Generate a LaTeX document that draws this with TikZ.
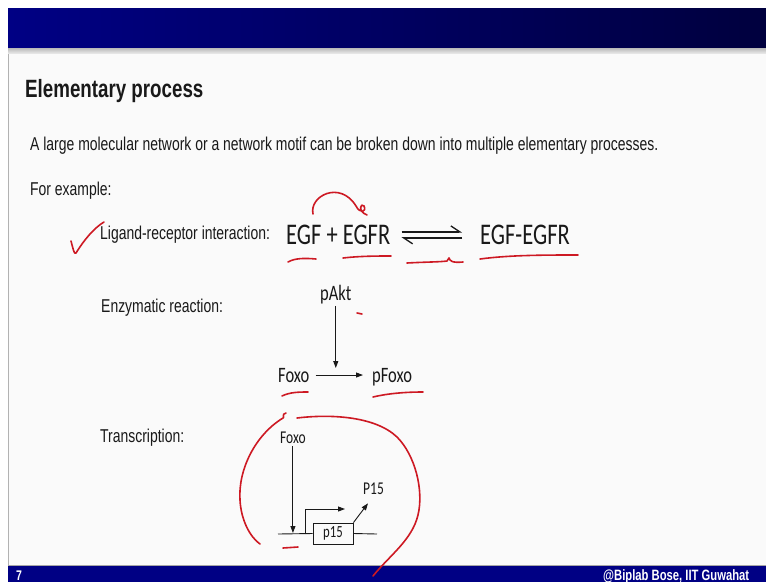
\documentclass[tikz,border=0pt]{standalone}
\usepackage{fontspec}
\setmainfont{Liberation Sans}[FakeStretch=0.75]
\newfontfamily\diagfont{Carlito}[FakeStretch=0.75]
\usetikzlibrary{arrows.meta,calc,positioning}
\definecolor{barblue}{RGB}{0,0,132}
\definecolor{bardark}{RGB}{0,0,62}
\definecolor{slidebg}{RGB}{250,250,250}
\definecolor{inkred}{RGB}{205,25,35}
\definecolor{txt}{RGB}{25,25,25}

\begin{document}
\begin{tikzpicture}[x=1pt,y=-1pt,
    body/.style={inner sep=0pt,anchor=base west,text=txt,font=\fontsize{18.6}{22}\selectfont},
    spc/.style={inner sep=0pt,anchor=base west,text=txt,font=\diagfont\fontsize{#1}{#1}\selectfont},
    flow/.style={-{Triangle[length=7pt,width=5pt]},line width=0.9pt,txt},
    harp/.style={-{Straight Barb[harpoon,length=9pt,width=12pt]},line width=1.3pt,txt},
    ink/.style={inkred,line width=1.6pt,line cap=round,line join=round}]
    \useasboundingbox (0,0) rectangle (766,582);
    % slide frame
    \fill[white] (0,0) rectangle (766,582);
    \fill[slidebg] (8,8) rectangle (766,566);
    \draw[gray!60] (8.5,48) -- (8.5,566);
    \shade[left color=barblue,right color=bardark] (8,8) rectangle (766,48);
    \shade[top color=gray!55,bottom color=gray!20] (8,48) rectangle (766,53);
    \draw[gray!70] (8,565.5) -- (766,565.5);
    \fill[barblue] (8,566) rectangle (766,582);
    \node[inner sep=0pt,anchor=base west,white,font=\bfseries\fontsize{14}{14}\selectfont] (pg) at (16,580) {7};
    \node[inner sep=0pt,anchor=base west,white,font=\bfseries\fontsize{15}{15}\selectfont] (credit) at (603,580) {@Biplab Bose, IIT Guwahat};

    % text
    \node[body,font=\bfseries\fontsize{25}{28}\selectfont] (title) at (25,97) {Elementary process};
    \node[body] (intro) at (30,150.5) {A large molecular network or a network motif can be broken down into multiple elementary processes.};
    \node[body] (eg) at (30,195) {For example:};
    \node[body] (lig) at (100,239) {Ligand-receptor interaction:};
    \node[body] (enz) at (101,312) {Enzymatic reaction:};
    \node[body] (trs) at (100,442) {Transcription:};

    % ligand-receptor
    \node[spc=30] (lhs) at (286,244) {EGF + EGFR};
    \node[spc=30] (cplx) at (480,244) {EGF-EGFR};
    \draw[harp,shorten <=11pt,shorten >=18pt] ([yshift=2.5pt]lhs.east) -- ([yshift=2.5pt]cplx.west);
    \draw[harp,shorten <=18pt,shorten >=11pt] ([yshift=-3.5pt]cplx.west) -- ([yshift=-3.5pt]lhs.east);

    % enzymatic reaction
    \node[spc=22] (akt) at (320,300) {pAkt};
    \node[spc=22] (foxo) at (278,382) {Foxo};
    \node[spc=22] (pfoxo) at (372,382) {pFoxo};
    \coordinate (hit) at ($(foxo.east)!0.5!(foxo.east -| pfoxo.west)$);
    \draw[flow,shorten <=6pt,shorten >=9pt] (foxo.east) -- (foxo.east -| pfoxo.west);
    \draw[flow,shorten <=2pt,shorten >=7pt] (akt.south) -- (akt.south |- hit);

    % transcription
    \node[spc=18] (tf) at (280,443) {Foxo};
    \node[draw=txt,line width=0.9pt,minimum width=40pt,minimum height=21pt,inner sep=0pt,text=txt,font=\diagfont\fontsize{17}{17}\selectfont] (gene) at (333,533.5) {p15};
    \node[spc=18] (prod) at (363,494) {P15};
    \coordinate (dnaL) at (278,534);
    \coordinate (dnaR) at (377,534);
    \coordinate (tss) at (305,534);
    \draw[line width=0.9pt,txt] (dnaL) -- (gene.west);
    \draw[line width=0.9pt,txt] (gene.east) -- (dnaR);
    \draw[flow,shorten <=3pt,shorten >=1pt] (tf.south) -- (tf.south |- dnaL);
    \draw[flow] (tss) -- ++(0,-25) -- ++(40,0);
    \draw[flow] (gene.north east) -- ([xshift=5pt,yshift=-9pt]prod.south west);

    % red pen marks
    \draw[ink] (71,241) .. controls (73,248) and (74,255) .. (76,253) .. controls (84,240) and (94,228) .. (104,222);
    \draw[ink] (313,214) .. controls (309,196) and (340,180) .. (356,206)
        .. controls (360,214) and (367,212) .. (364,206) .. controls (361,202) and (357,211) .. (367,215);
    \draw[ink] (288,262) .. controls (295,258) and (305,258) .. (316,259);
    \draw[ink] (343,258) .. controls (360,256) and (378,256) .. (391,256);
    \draw[ink] (407,263) .. controls (425,262) and (440,262) .. (447,261) -- (449,258)
        .. controls (450,261) and (452,263) .. (463,262);
    \draw[ink] (480,259) .. controls (510,255) and (545,255) .. (578,255);
    \draw[ink] (357,313) -- (362,314);
    \draw[ink] (282,396) .. controls (290,392) and (300,392) .. (308,392);
    \draw[ink] (373,397) .. controls (390,393) and (408,392) .. (423,392);
    \draw[ink] (286,413) .. controls (281,414) and (285,418) .. (283,418)
        .. controls (255,435) and (238,470) .. (240,500) .. controls (241,520) and (250,537) .. (260,544);
    \draw[ink] (297,418) .. controls (330,414) and (375,416) .. (397,437)
        .. controls (415,455) and (424,490) .. (418,515) .. controls (412,540) and (390,555) .. (373,576);
    \draw[ink] (283,548) -- (298,547);
\end{tikzpicture}
\end{document}
